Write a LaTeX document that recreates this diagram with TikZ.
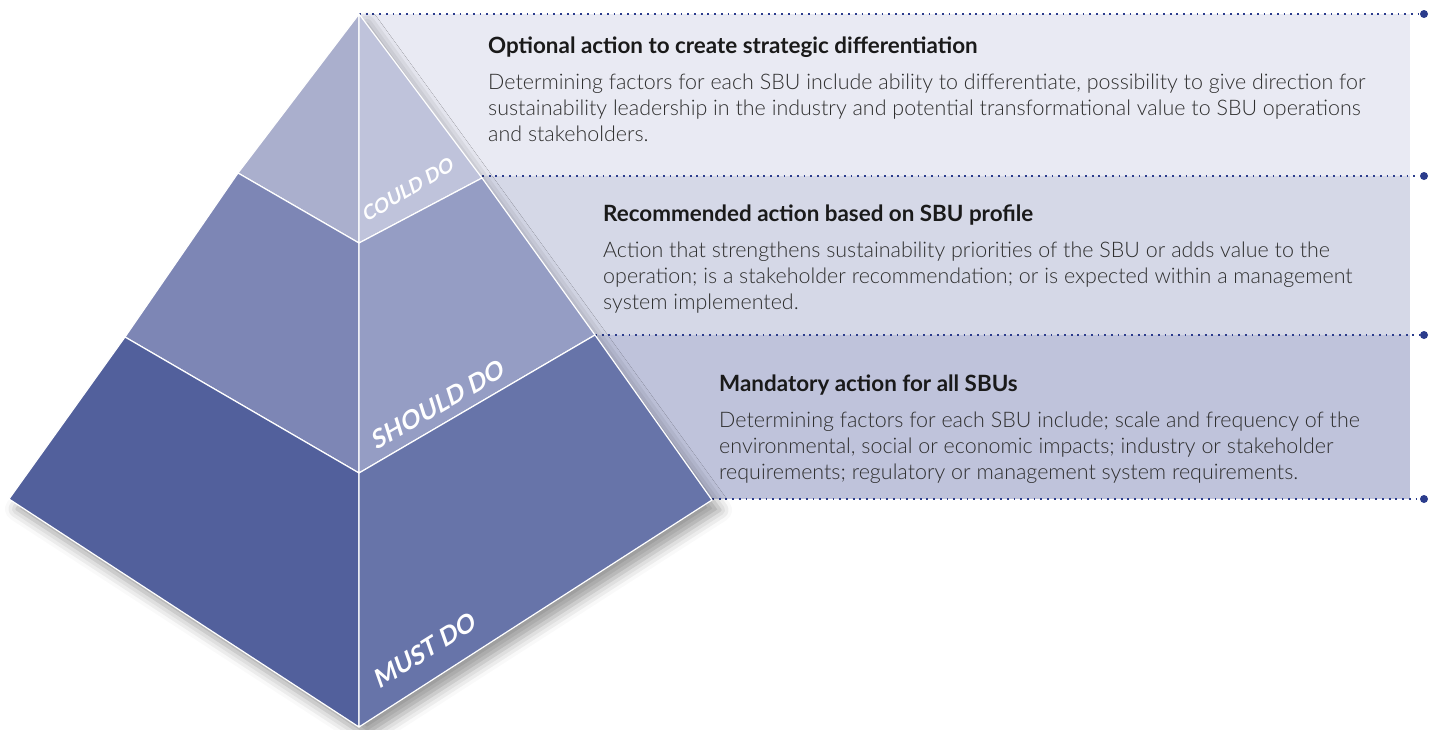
\documentclass[tikz,border=0pt]{standalone}
\usepackage{fontspec}
\setmainfont{Lato}
\newfontfamily\lightfont{Lato Light}
\newfontfamily\tierfont{Lato}[FakeSlant=0.22]
\usetikzlibrary{shadows.blur}

\definecolor{bandA}{HTML}{E9EAF3}
\definecolor{bandB}{HTML}{D5D8E7}
\definecolor{bandC}{HTML}{BFC3DB}
\definecolor{topL}{HTML}{AAAFCD}
\definecolor{topR}{HTML}{BFC3DB}
\definecolor{midL}{HTML}{7D86B5}
\definecolor{midR}{HTML}{959DC4}
\definecolor{botL}{HTML}{52609C}
\definecolor{botR}{HTML}{6774A9}
\definecolor{dotblue}{HTML}{2B3C8C}
\definecolor{headtxt}{HTML}{1A1A1A}
\definecolor{bodytxt}{HTML}{2E2E2E}

\tikzset{
  dotline/.style={dotblue, line width=1.8pt, dash pattern=on 1.8pt off 4.9pt},
  enddot/.style={circle, fill=dotblue, inner sep=0pt, minimum size=8pt},
  face/.style={draw=white, line width=1.2pt, line join=round},
  heading/.style={anchor=base west, inner sep=0pt, font=\fontsize{22.4}{26}\selectfont\bfseries, text=headtxt},
  body/.style={anchor=north west, inner sep=0pt, align=left, font=\lightfont\fontsize{21.45}{25.6}\selectfont, text=bodytxt},
  tier/.style={text=white, inner sep=0pt}
}

\begin{document}
\begin{tikzpicture}[x=1pt, y=-1pt]
\useasboundingbox (0,0) rectangle (1436,729);

% corner points of the pyramid
\coordinate (apex) at (359,14);
\coordinate (L1) at (238,173);
\coordinate (C1) at (359,243);
\coordinate (R1) at (482,178);
\coordinate (L2) at (125,337);
\coordinate (C2) at (359,473);
\coordinate (R2) at (595,335);
\coordinate (L3) at (9,499);
\coordinate (R3) at (712,500);
\coordinate (base) at (359,727);

% text bands
\fill[bandA] (359,14) rectangle (1410,176);
\fill[bandB] (359,176) rectangle (1410,335);
\fill[bandC] (359,335) rectangle (1410,499);

% dotted separators with end dots
\node[enddot] (d0) at (1424,14) {};
\node[enddot] (d1) at (1424,176) {};
\node[enddot] (d2) at (1424,335) {};
\node[enddot] (d3) at (1424,499) {};
\coordinate (s1) at (482,176);
\coordinate (s2) at (595,335);
\coordinate (s3) at (712,499);
\draw[dotline] (apex) -- (d0.west);
\draw[dotline] (s1) -- (d1.west);
\draw[dotline] (s2) -- (d2.west);
\draw[dotline] (s3) -- (d3.west);

% pyramid body with soft shadow
\fill[white, blur shadow={shadow xshift=8pt, shadow yshift=-10pt, shadow blur radius=12pt, shadow opacity=40}]
  (apex) -- (R3) -- (base) -- (L3) -- cycle;

\filldraw[face, fill=topL] (apex) -- (C1) -- (L1) -- cycle;
\filldraw[face, fill=topR] (apex) -- (R1) -- (C1) -- cycle;
\filldraw[face, fill=midL] (L1) -- (C1) -- (C2) -- (L2) -- cycle;
\filldraw[face, fill=midR] (C1) -- (R1) -- (R2) -- (C2) -- cycle;
\filldraw[face, fill=botL] (L2) -- (C2) -- (base) -- (L3) -- cycle;
\filldraw[face, fill=botR] (C2) -- (R2) -- (R3) -- (base) -- cycle;

% tier labels
\node[tier, rotate=31, font=\tierfont\bfseries\fontsize{19.5}{22}\selectfont] (could) at (407,190) {COULD DO};
\node[tier, rotate=30, font=\tierfont\bfseries\fontsize{25}{28}\selectfont] (should) at (437,405) {SHOULD DO};
\node[tier, rotate=32, font=\tierfont\bfseries\fontsize{25}{28}\selectfont] (must) at (424,651) {MUST DO};

% descriptions
\node[heading] (h1) at (488,53) {Optional action to create strategic differentiation};
\node[body] (b1) at (488,74) {Determining factors for each SBU include ability to differentiate, possibility to give direction for\\
sustainability leadership in the industry and potential transformational value to SBU operations\\
and stakeholders.};

\node[heading] (h2) at (603,221) {Recommended action based on SBU profile};
\node[body] (b2) at (603,242) {Action that strengthens sustainability priorities of the SBU or adds value to the\\
operation; is a stakeholder recommendation; or is expected within a management\\
system implemented.};

\node[heading] (h3) at (719,391) {Mandatory action for all SBUs};
\node[body] (b3) at (719,412) {Determining factors for each SBU include; scale and frequency of the\\
environmental, social or economic impacts; industry or stakeholder\\
requirements; regulatory or management system requirements.};
\end{tikzpicture}
\end{document}
